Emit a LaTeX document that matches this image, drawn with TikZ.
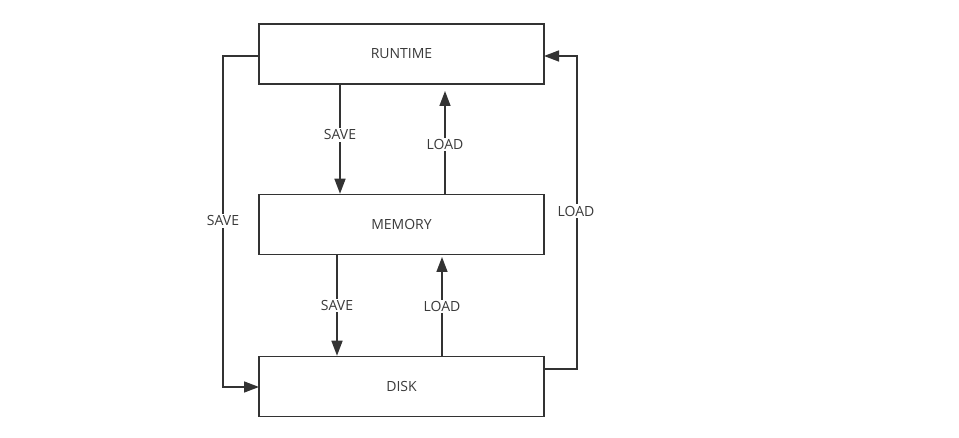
\documentclass[tikz,border=0pt]{standalone}
\usepackage{fontspec}
\setmainfont{Open Sans}
\usetikzlibrary{arrows.meta}
\definecolor{ink}{HTML}{333333}
\definecolor{txt}{HTML}{3a3a3a}
\begin{document}
\begin{tikzpicture}[x=1pt,y=-1pt,
  box/.style={draw=ink,line width=1.5pt,minimum width=285pt,minimum height=60pt,inner sep=0pt,text=txt,font=\fontsize{14}{16}\selectfont},
  conn/.style={draw=ink,line width=1.5pt,-{Triangle[length=15pt,width=11pt]}},
  lbl/.style={fill=white,text=txt,inner sep=1.5pt,font=\fontsize{14}{16}\selectfont}]
\useasboundingbox (0,0) rectangle (959,438);
\node[box] (rt) at (401.5,54) {RUNTIME};
\node[box] (mem) at (401.5,224.5) {MEMORY};
\node[box] (disk) at (401.5,386.5) {DISK};
\coordinate (rtL) at (259,56);
\coordinate (rtR) at (544,56);
\coordinate (dkL) at (259,387);
\coordinate (dkR) at (544,369);
\coordinate (tipA) at (445,91);
\coordinate (tipB) at (442,257);
% runtime -> memory save
\draw[conn] (rt.south -| 340,0) -- (mem.north -| 340,0) node[lbl,pos=0.46] {SAVE};
% memory -> runtime load
\draw[conn] (mem.north -| 445,0) -- (tipA) node[lbl,pos=0.48] {LOAD};
% memory -> disk save
\draw[conn] (mem.south -| 337,0) -- (disk.north -| 337,0) node[lbl,pos=0.5] {SAVE};
% disk -> memory load
\draw[conn] (disk.north -| 442,0) -- (tipB) node[lbl,pos=0.5] {LOAD};
% left save
\draw[conn] (rtL) -- (223,56) -- (223,387) -- (dkL);
\node[lbl] (lsave) at (223,221) {SAVE};
% right load
\draw[conn] (dkR) -- (577,369) -- (577,56) -- (rtR);
\node[lbl] (rload) at (576,211) {LOAD};
\end{tikzpicture}
\end{document}
